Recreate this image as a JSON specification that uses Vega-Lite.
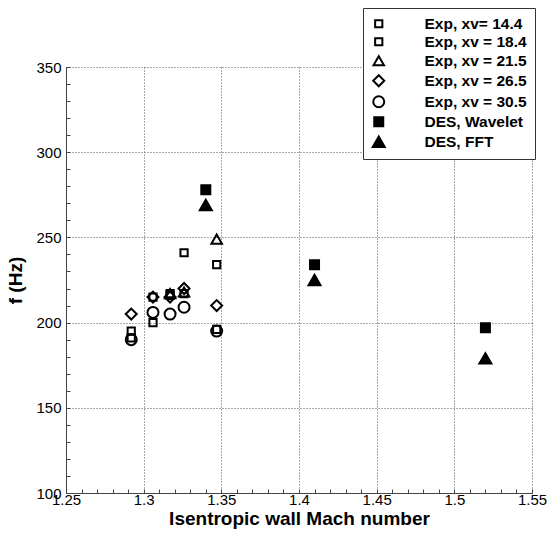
{
  "$schema": "https://vega.github.io/schema/vega-lite/v6.json",
  "autosize": "none",
  "width": 466,
  "height": 426,
  "padding": {"left": 66, "top": 67, "right": 16, "bottom": 41},
  "background": "white",
  "config": {
    "view": {"stroke": null},
    "font": "Liberation Sans"
  },
  "data": {
    "values": [
      {"series": "Exp, xv= 14.4", "mach": 1.292, "f": 195},
      {"series": "Exp, xv= 14.4", "mach": 1.306, "f": 200},
      {"series": "Exp, xv= 14.4", "mach": 1.317, "f": 217},
      {"series": "Exp, xv= 14.4", "mach": 1.326, "f": 241},
      {"series": "Exp, xv= 14.4", "mach": 1.347, "f": 234},
      {"series": "Exp, xv = 18.4", "mach": 1.292, "f": 191},
      {"series": "Exp, xv = 18.4", "mach": 1.306, "f": 215},
      {"series": "Exp, xv = 18.4", "mach": 1.317, "f": 216},
      {"series": "Exp, xv = 18.4", "mach": 1.326, "f": 217},
      {"series": "Exp, xv = 18.4", "mach": 1.347, "f": 196},
      {"series": "Exp, xv = 21.5", "mach": 1.317, "f": 217},
      {"series": "Exp, xv = 21.5", "mach": 1.326, "f": 218},
      {"series": "Exp, xv = 21.5", "mach": 1.347, "f": 249},
      {"series": "Exp, xv = 26.5", "mach": 1.292, "f": 205},
      {"series": "Exp, xv = 26.5", "mach": 1.306, "f": 215},
      {"series": "Exp, xv = 26.5", "mach": 1.317, "f": 215},
      {"series": "Exp, xv = 26.5", "mach": 1.326, "f": 220},
      {"series": "Exp, xv = 26.5", "mach": 1.347, "f": 210},
      {"series": "Exp, xv = 30.5", "mach": 1.292, "f": 190},
      {"series": "Exp, xv = 30.5", "mach": 1.306, "f": 206},
      {"series": "Exp, xv = 30.5", "mach": 1.317, "f": 205},
      {"series": "Exp, xv = 30.5", "mach": 1.326, "f": 209},
      {"series": "Exp, xv = 30.5", "mach": 1.347, "f": 195},
      {"series": "DES, Wavelet", "mach": 1.34, "f": 278},
      {"series": "DES, Wavelet", "mach": 1.41, "f": 234},
      {"series": "DES, Wavelet", "mach": 1.52, "f": 197},
      {"series": "DES, FFT", "mach": 1.34, "f": 269},
      {"series": "DES, FFT", "mach": 1.41, "f": 225},
      {"series": "DES, FFT", "mach": 1.52, "f": 179}
    ]
  },
  "mark": {"type": "point", "filled": true, "stroke": "black", "strokeWidth": 2, "opacity": 1},
  "encoding": {
    "x": {
      "field": "mach", "type": "quantitative",
      "scale": {"domain": [1.25, 1.55], "nice": false, "zero": false},
      "axis": {
        "title": "Isentropic wall Mach number",
        "titleFontSize": 19, "titleFontWeight": "bold", "titleColor": "black", "titlePadding": 2,
        "values": [1.25,1.26,1.27,1.28,1.29,1.3,1.31,1.32,1.33,1.34,1.35,1.36,1.37,1.38,1.39,1.4,1.41,1.42,1.43,1.44,1.45,1.46,1.47,1.48,1.49,1.5,1.51,1.52,1.53,1.54,1.55],
        "labelExpr": "abs(round(datum.value*100)) % 5 == 0 ? format(datum.value, '.2~f') : ''",
        "labelOverlap": false, "labelFlush": false,
        "labelFontSize": 15, "labelColor": "black", "labelPadding": 3,
        "tickSize": -4, "tickColor": "#444", "domainColor": "#444",
        "grid": true, "gridDash": [1, 2], "gridColor": "#555",
        "gridOpacity": {"condition": {"test": "abs(round(datum.value*100)) % 5 == 0", "value": 1}, "value": 0}
      }
    },
    "y": {
      "field": "f", "type": "quantitative",
      "scale": {"domain": [100, 350], "nice": false, "zero": false},
      "axis": {
        "title": "f (Hz)",
        "titleFontSize": 19, "titleFontWeight": "bold", "titleColor": "black", "titlePadding": 10,
        "values": [100,110,120,130,140,150,160,170,180,190,200,210,220,230,240,250,260,270,280,290,300,310,320,330,340,350],
        "labelExpr": "datum.value % 50 == 0 ? datum.value : ''",
        "labelOverlap": false, "labelFlush": false,
        "labelFontSize": 15, "labelColor": "black", "labelPadding": 9,
        "tickSize": -4, "tickColor": "#444", "domainColor": "#444",
        "grid": true, "gridDash": [1, 2], "gridColor": "#555",
        "gridOpacity": {"condition": {"test": "datum.value % 50 == 0", "value": 1}, "value": 0}
      }
    },
    "shape": {
      "field": "series", "type": "nominal",
      "scale": {
        "domain": ["Exp, xv= 14.4", "Exp, xv = 18.4", "Exp, xv = 21.5", "Exp, xv = 26.5", "Exp, xv = 30.5", "DES, Wavelet", "DES, FFT"],
        "range": ["square", "square", "triangle-up", "diamond", "circle", "square", "triangle-up"]
      },
      "legend": {
        "title": null, "orient": "none", "legendX": 297, "legendY": -59,
        "strokeColor": "#333", "fillColor": "white", "padding": 8,
        "labelFontSize": 15.5, "labelFontWeight": "bold", "labelColor": "black",
        "labelOffset": 38, "rowPadding": 1, "symbolStrokeWidth": 2, "symbolStrokeColor": "black"
      }
    },
    "fill": {
      "field": "series", "type": "nominal",
      "scale": {
        "domain": ["Exp, xv= 14.4", "Exp, xv = 18.4", "Exp, xv = 21.5", "Exp, xv = 26.5", "Exp, xv = 30.5", "DES, Wavelet", "DES, FFT"],
        "range": ["transparent", "transparent", "transparent", "transparent", "transparent", "black", "black"]
      },
      "legend": {"title": null}
    },
    "size": {
      "field": "series", "type": "nominal",
      "scale": {
        "type": "ordinal",
        "domain": ["Exp, xv= 14.4", "Exp, xv = 18.4", "Exp, xv = 21.5", "Exp, xv = 26.5", "Exp, xv = 30.5", "DES, Wavelet", "DES, FFT"],
        "range": [52, 52, 110, 121, 121, 81, 144]
      },
      "legend": {"title": null}
    }
  }
}
